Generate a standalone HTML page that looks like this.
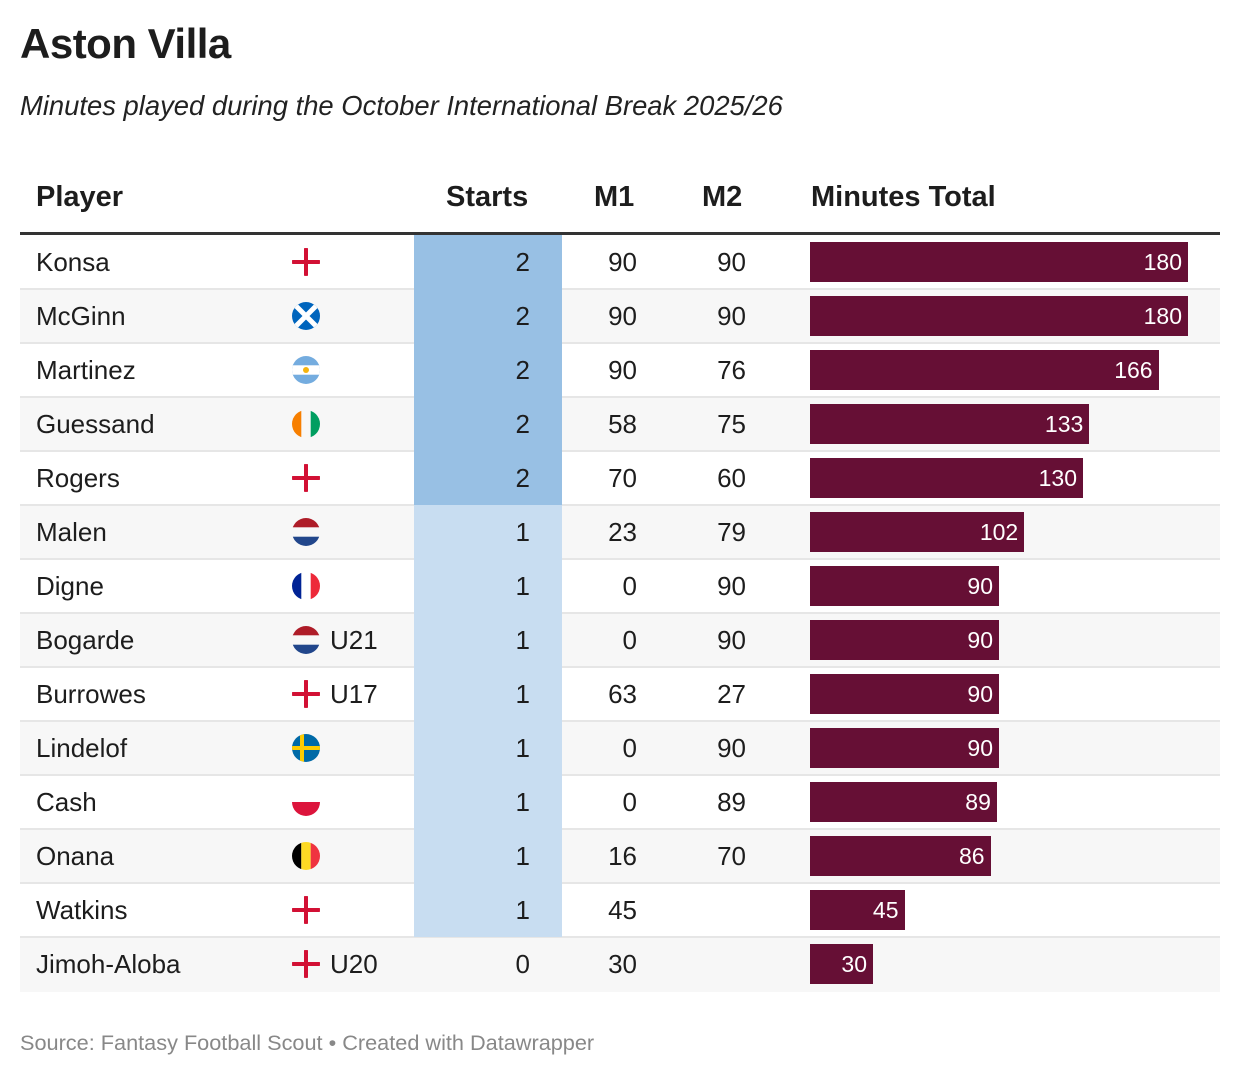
<!DOCTYPE html>
<html><head><meta charset="utf-8">
<style>
body{margin:0;background:#fff;font-family:"Liberation Sans",sans-serif;color:#1d1d1d;width:1240px;height:1076px;overflow:hidden;position:relative}
.abs{position:absolute}
#title{left:20px;top:20px;font-size:42px;font-weight:bold;letter-spacing:-0.5px}
#sub{left:20px;top:90px;font-size:27.4px;font-style:italic;color:#222}
.hd{top:181px;font-size:29px;font-weight:bold}
#hline{left:20px;top:232px;width:1200px;height:3px;background:#333}
.row{position:absolute;left:20px;width:1200px;height:52px;border-bottom:2px solid #e6e6e6}
.cell{position:absolute;top:0;height:52px;line-height:52px;font-size:26px}
.bar{position:absolute;top:6px;height:40px;background:#660f35;color:#fff;font-size:23px;line-height:40px;text-align:right;box-sizing:border-box;padding-right:6px}
#foot{left:20px;top:1030px;font-size:21.7px;color:#888}
</style></head><body>
<div id="title" class="abs">Aston Villa</div>
<div id="sub" class="abs">Minutes played during the October International Break 2025/26</div>
<div class="abs hd" style="left:36px">Player</div>
<div class="abs hd" style="left:446px">Starts</div>
<div class="abs hd" style="left:594px">M1</div>
<div class="abs hd" style="left:702px">M2</div>
<div class="abs hd" style="left:811px">Minutes Total</div>
<div id="hline" class="abs"></div>
<div id="rows"></div>
<div id="foot" class="abs">Source: Fantasy Football Scout • Created with Datawrapper</div>
<script>
const players=["Konsa","McGinn","Martinez","Guessand","Rogers","Malen","Digne","Bogarde","Burrowes","Lindelof","Cash","Onana","Watkins","Jimoh-Aloba"];
const flags=["eng","sco","arg","civ","eng","ned","fra","ned","eng","swe","pol","bel","eng","eng"];
const notes=["","","","","","","","U21","U17","","","","","U20"];
const starts=[2,2,2,2,2,1,1,1,1,1,1,1,1,0];
const m1=[90,90,90,58,70,23,0,0,63,0,0,16,45,30];
const m2=[90,90,76,75,60,79,90,90,27,90,89,70,null,null];
const totals=[180,180,166,133,130,102,90,90,90,90,89,86,45,30];
const xBar=v=>v*378/180;
function flagSvg(f){
 const c='<clipPath id="c"><circle cx="14" cy="14" r="14"/></clipPath>';
 let s='';
 if(f=='eng')s='<rect x="12" y="0" width="4" height="28" fill="#d21034"/><rect x="0" y="12" width="28" height="4" fill="#d21034"/>';
 if(f=='sco')s='<rect width="28" height="28" fill="#0065bd"/><path d="M0 0L28 28M28 0L0 28" stroke="#fff" stroke-width="5"/>';
 if(f=='arg')s='<rect width="28" height="28" fill="#74acdf"/><rect y="9.3" width="28" height="9.4" fill="#fff"/><circle cx="14" cy="14" r="3" fill="#f6b40e"/>';
 if(f=='civ')s='<rect width="9.3" height="28" fill="#f77f00"/><rect x="18.7" width="9.3" height="28" fill="#009e60"/>';
 if(f=='ned')s='<rect width="28" height="9.3" fill="#ae1c28"/><rect y="18.7" width="28" height="9.3" fill="#21468b"/>';
 if(f=='fra')s='<rect width="9.3" height="28" fill="#002395"/><rect x="18.7" width="9.3" height="28" fill="#ed2939"/>';
 if(f=='swe')s='<rect width="28" height="28" fill="#006aa7"/><rect x="8" width="4" height="28" fill="#fecc00"/><rect y="12" width="28" height="4" fill="#fecc00"/>';
 if(f=='pol')s='<rect y="14" width="28" height="14" fill="#dc143c"/>';
 if(f=='bel')s='<rect width="9.3" height="28" fill="#000"/><rect x="9.3" width="9.4" height="28" fill="#fdda24"/><rect x="18.7" width="9.3" height="28" fill="#ef3340"/>';
 return '<svg width="28" height="28" viewBox="0 0 28 28"><defs>'+c+'</defs><g clip-path="url(#c)">'+s+'</g></svg>';
}
const root=document.getElementById('rows');
players.forEach((p,i)=>{
 const r=document.createElement('div');
 r.className='row';
 
 
 r.style.top=(236+i*54)+'px';
 r.style.background=i%2?'#f7f7f7':'#fff';
 if(i==players.length-1)r.style.borderBottom='2px solid transparent';
 const sc=starts[i]==2?'#98c0e4':(starts[i]==1?'#c8ddf1':'transparent');
 r.innerHTML=
 '<div class="cell" style="left:16px">'+p+'</div>'+
 '<div class="cell" style="left:272px;top:12px;height:28px;line-height:0">'+flagSvg(flags[i])+'</div>'+
 '<div class="cell" style="left:310px">'+notes[i]+'</div>'+
 '<div class="cell" style="left:394px;width:148px;top:-1px;height:54px;line-height:54px;background:'+sc+';text-align:right;padding-right:32px;box-sizing:border-box">'+starts[i]+'</div>'+
 '<div class="cell" style="left:520px;width:97px;text-align:right">'+m1[i]+'</div>'+
 '<div class="cell" style="left:630px;width:96px;text-align:right">'+(m2[i]==null?'':m2[i])+'</div>'+
 '<div class="bar" style="left:790px;width:'+xBar(totals[i])+'px">'+totals[i]+'</div>';
 root.appendChild(r);
});
</script>
</body></html>
